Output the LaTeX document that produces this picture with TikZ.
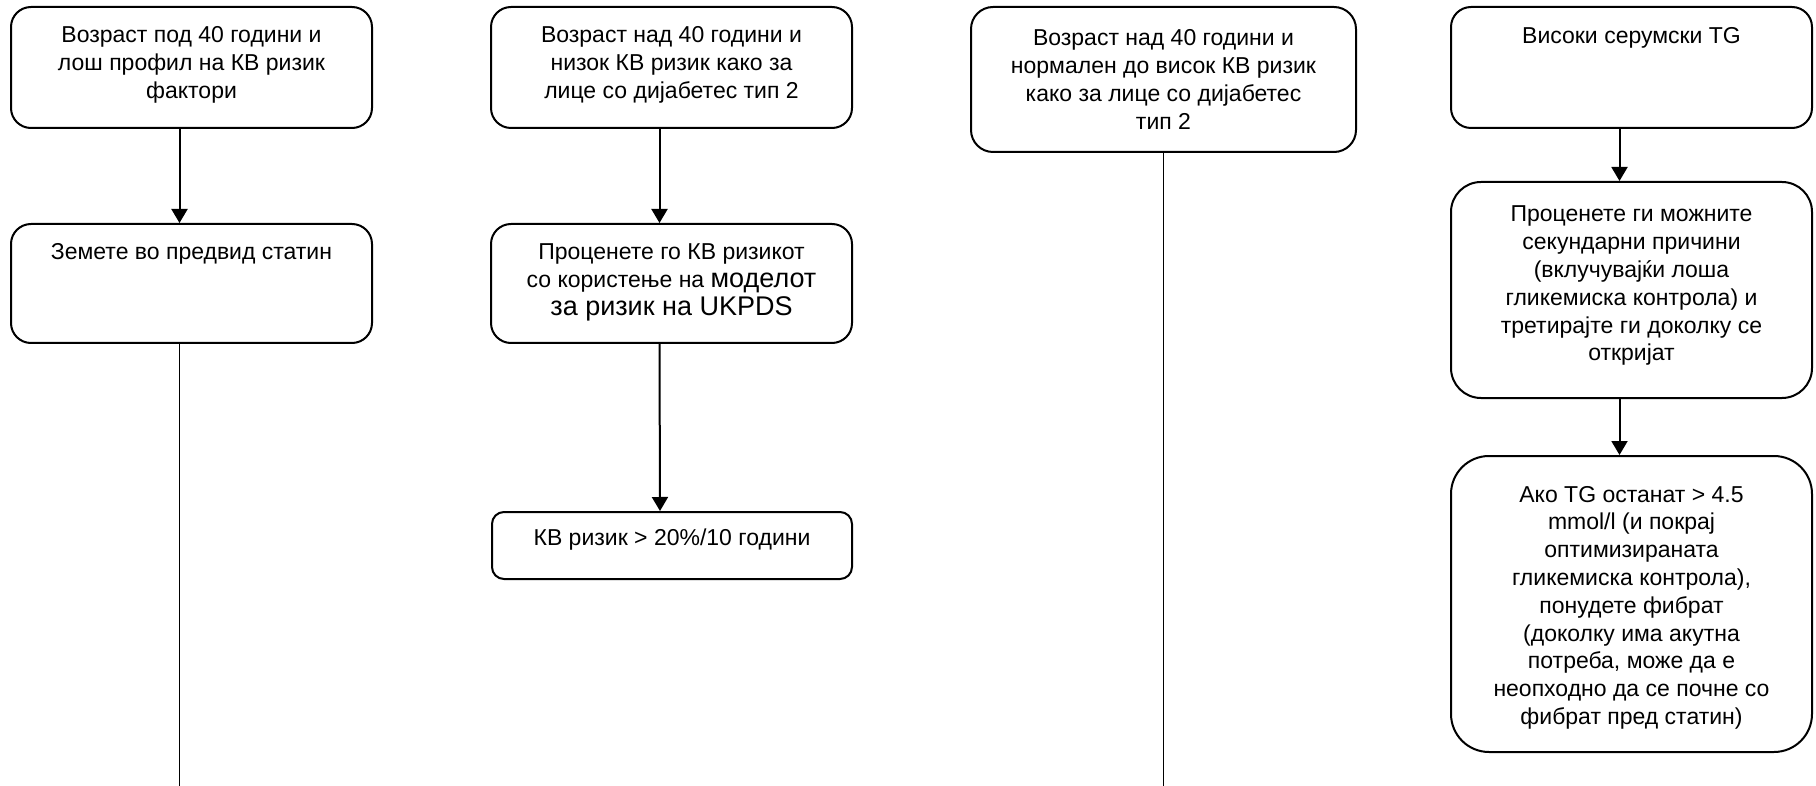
\documentclass[tikz,border=0pt]{standalone}
\usepackage{fontspec}
\setmainfont{Liberation Sans}
\usetikzlibrary{arrows.meta}

\tikzset{
    stepbox/.style={draw, line width=1pt, inner sep=0pt, rounded corners=10pt,
        font=\fontsize{11.5pt}{13.9pt}\selectfont},
    flow/.style={line width=1pt, -{Triangle[length=7pt,width=8pt]}},
    trail/.style={line width=0.8pt}
}
% box text: first baseline, width, height, lines
\newcommand{\boxtext}[4][19pt]{\parbox[c][#3][t]{#2}{\centering\rule{0pt}{#1}#4\par}}
\newcommand{\bigtxt}[1]{{\fontsize{13.5pt}{16pt}\selectfont #1}}

\begin{document}
\begin{tikzpicture}[x=0.5pt,y=-0.5pt]
    \useasboundingbox (0,0) rectangle (1816,786);

    % column 1
    \node[stepbox] (under40) at (191.5,67.5)
        {\boxtext[18pt]{180.5pt}{60.5pt}{Возраст под 40 години и\\лош профил на КВ ризик\\фактори}};
    \node[stepbox] (statin) at (191.5,283.5)
        {\boxtext[18pt]{180.5pt}{59.5pt}{Земете во предвид статин}};
    \coordinate (end1) at (179.5,786);

    % column 2
    \node[stepbox] (lowrisk) at (671.5,67.5)
        {\boxtext[18pt]{180.5pt}{60.5pt}{Возраст над 40 години и\\низок КВ ризик како за\\лице со дијабетес тип 2}};
    \node[stepbox] (ukpds) at (671.5,283.5)
        {\boxtext[18pt]{180.5pt}{59.5pt}{Проценете го КВ ризикот\\со користење на \bigtxt{моделот}\\\bigtxt{за ризик на UKPDS}}};
    \node[stepbox, rounded corners=6pt] (risk20) at (672,545.5)
        {\boxtext[16.5pt]{180pt}{33.5pt}{КВ ризик > 20\%/10 години}};

    % column 3
    \node[stepbox, rounded corners=11pt] (highrisk) at (1163.5,79.5)
        {\boxtext[19.5pt]{192.5pt}{72.5pt}{Возраст над 40 години и\\нормален до висок КВ ризик\\како за лице со дијабетес\\тип 2}};
    \coordinate (end3) at (1163.5,786);

    % column 4
    \node[stepbox] (hightg) at (1631.5,67.5)
        {\boxtext[18.5pt]{180.5pt}{60.5pt}{Високи серумски TG}};
    \node[stepbox, rounded corners=15pt] (secondary) at (1631.5,290)
        {\boxtext[20pt]{180.5pt}{108pt}{Проценете ги можните\\секундарни причини\\(вклучувајќи лоша\\гликемиска контрола) и\\третирајте ги доколку се\\откријат}};
    \node[stepbox, rounded corners=19pt] (fibrate) at (1631.5,604)
        {\boxtext[23pt]{180.5pt}{148pt}{Ако TG останат > 4.5\\mmol/l (и покрај\\оптимизираната\\гликемиска контрола),\\понудете фибрат\\(доколку има акутна\\потреба, може да е\\неопходно да се почне со\\фибрат пред статин)}};

    % connectors
    \draw[flow] ([xshift=-6pt]under40.south) -- ([xshift=-6pt]statin.north);
    \draw[trail] ([xshift=-6pt]statin.south) -- (end1);
    \draw[flow] ([xshift=-6pt]lowrisk.south) -- ([xshift=-6pt]ukpds.north);
    \draw[flow] ([xshift=-6pt]ukpds.south) -- ([xshift=-6pt]risk20.north);
    \draw[trail] (highrisk.south) -- (end3);
    \draw[flow] ([xshift=-6pt]hightg.south) -- ([xshift=-6pt]secondary.north);
    \draw[flow] ([xshift=-6pt]secondary.south) -- ([xshift=-6pt]fibrate.north);
\end{tikzpicture}
\end{document}
